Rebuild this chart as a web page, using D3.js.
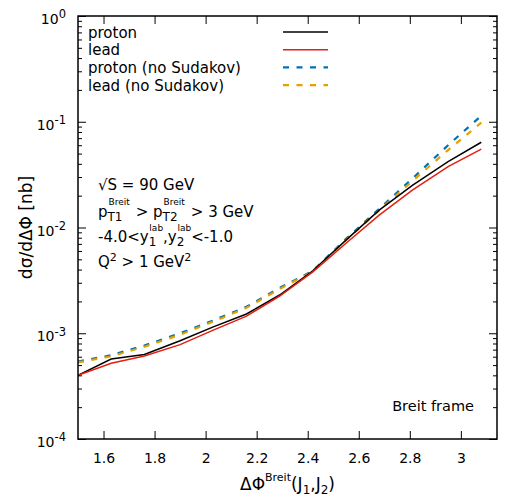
<!DOCTYPE html>
<html>
<head>
<meta charset="utf-8">
<script src="https://cdn.jsdelivr.net/npm/d3@7"></script>
<style>
  body { margin: 0; background: #fff; }
  text { font-family: "DejaVu Sans", Verdana, sans-serif; }
</style>
</head>
<body>
<div id="chart"></div>
<script>
// Data
var dphi = [1.50, 1.63, 1.76, 1.90, 2.03, 2.16, 2.29, 2.42, 2.55, 2.68, 2.81, 2.95, 3.08];
var proton = [4.0e-4, 5.7e-4, 6.3e-4, 8.5e-4, 1.15e-3, 1.52e-3, 2.3e-3, 3.9e-3, 7.6e-3, 1.46e-2, 2.5e-2, 4.2e-2, 6.4e-2];
var lead = [4.0e-4, 5.2e-4, 6.1e-4, 7.8e-4, 1.07e-3, 1.45e-3, 2.25e-3, 3.8e-3, 7.1e-3, 1.31e-2, 2.26e-2, 3.76e-2, 5.5e-2];
var protonNoSud = [5.4e-4, 6.2e-4, 7.65e-4, 1.0e-3, 1.32e-3, 1.78e-3, 2.68e-3, 3.9e-3, 7.8e-3, 1.5e-2, 2.9e-2, 6.0e-2, 1.14e-1];
var leadNoSud = [5.3e-4, 6.05e-4, 7.45e-4, 0.97e-3, 1.29e-3, 1.74e-3, 2.62e-3, 3.85e-3, 7.6e-3, 1.45e-2, 2.75e-2, 5.4e-2, 9.8e-2];

var seriesNames = ["proton", "lead", "proton (no Sudakov)", "lead (no Sudakov)"];
var seriesColors = ["#000000", "#e51e10", "#0072b2", "#e69f00"];
var seriesDashed = [false, false, true, true];
var seriesValues = [proton, lead, protonNoSud, leadNoSud];

var xTicks = [1.6, 1.8, 2.0, 2.2, 2.4, 2.6, 2.8, 3.0];
var yDecades = [1e-4, 1e-3, 1e-2, 1e-1, 1];
var yExponents = ["-4", "-3", "-2", "-1", "0"];

// Chart size
var width = 514;
var height = 498;
var margin = { top: 16, right: 17, bottom: 59, left: 78 };
var innerWidth = width - margin.left - margin.right;
var innerHeight = height - margin.top - margin.bottom;

var svg = d3.select("#chart")
  .append("svg")
  .attr("width", width)
  .attr("height", height);

var g = svg.append("g")
  .attr("transform", "translate(" + margin.left + "," + margin.top + ")");

var xScale = d3.scaleLinear().domain([1.5, Math.PI]).range([0, innerWidth]);
var yScale = d3.scaleLog().domain([1e-4, 1]).range([innerHeight, 0]);

// minor log ticks
var yMinor = [];
yDecades.slice(0, 4).forEach(function (d) {
  for (var k = 2; k <= 9; k++) yMinor.push(d * k);
});

// clip
svg.append("defs").append("clipPath").attr("id", "clip")
  .append("rect").attr("width", innerWidth).attr("height", innerHeight);

// Curves
var line = d3.line()
  .x(function (d) { return xScale(d[0]); })
  .y(function (d) { return yScale(d[1]); });

var curves = g.append("g").attr("clip-path", "url(#clip)");
[2, 3, 0, 1].forEach(function (i) {
  var pts = dphi.map(function (x, j) { return [x, seriesValues[i][j]]; });
  curves.append("path")
    .attr("d", line(pts))
    .attr("fill", "none")
    .attr("stroke", seriesColors[i])
    .attr("stroke-width", seriesDashed[i] ? 2.2 : 1.5)
    .attr("stroke-dasharray", seriesDashed[i] ? "6,7.5" : null);
});

// Axes (ticks pointing inward)
function styleAxis(sel) {
  sel.select(".domain").remove();
  sel.selectAll(".tick line").attr("stroke", "#000").attr("stroke-width", 1);
  sel.selectAll("text").attr("fill", "#000").attr("font-size", 14)
    .style("font-family", "'DejaVu Sans', Verdana, sans-serif");
}
function noLabels(sel) {
  sel.selectAll(".tick text").remove();
}

g.append("g")
  .attr("transform", "translate(0," + innerHeight + ")")
  .call(d3.axisBottom(xScale).tickValues(xTicks).tickSize(-8).tickPadding(14)
    .tickFormat(function (d) { return d3.format("")(+d.toFixed(1)); }))
  .call(styleAxis);

g.append("g")
  .call(d3.axisTop(xScale).tickValues(xTicks).tickSize(-8))
  .call(styleAxis).call(noLabels);

var leftAxis = g.append("g")
  .call(d3.axisLeft(yScale).tickValues(yDecades).tickSize(-8).tickPadding(12)
    .tickFormat(function () { return ""; }))
  .call(styleAxis);

leftAxis.selectAll(".tick text").each(function (d, i) {
  var t = d3.select(this);
  t.text("").attr("dy", "0.55em");
  t.append("tspan").text("10");
  t.append("tspan").attr("dy", "-0.5em").attr("font-size", 11.5).text(yExponents[i]);
});

g.append("g")
  .call(d3.axisLeft(yScale).tickValues(yMinor).tickSize(-4))
  .call(styleAxis).call(noLabels);

g.append("g")
  .attr("transform", "translate(" + innerWidth + ",0)")
  .call(d3.axisRight(yScale).tickValues(yDecades).tickSize(-8))
  .call(styleAxis).call(noLabels);

g.append("g")
  .attr("transform", "translate(" + innerWidth + ",0)")
  .call(d3.axisRight(yScale).tickValues(yMinor).tickSize(-4))
  .call(styleAxis).call(noLabels);

// Frame
g.append("rect")
  .attr("width", innerWidth)
  .attr("height", innerHeight)
  .attr("fill", "none")
  .attr("stroke", "#000")
  .attr("stroke-width", 1.5);

// Legend
var legend = g.append("g").attr("transform", "translate(10,16)");
seriesNames.forEach(function (name, i) {
  var row = legend.append("g").attr("transform", "translate(0," + (i * 17.7) + ")");
  row.append("text").attr("x", 0).attr("y", 5.5).attr("font-size", 15).text(name);
  row.append("line")
    .attr("x1", 195).attr("x2", 240)
    .attr("stroke", seriesColors[i])
    .attr("stroke-width", seriesDashed[i] ? 2.2 : 1.5)
    .attr("stroke-dasharray", seriesDashed[i] ? "6,7.5" : null);
});

// Annotation text
var ann = g.append("g").attr("transform", "translate(20,0)").attr("font-size", 15);
ann.append("text").attr("y", 174).text("√S = 90 GeV");

var t2 = ann.append("text").attr("y", 201);
t2.append("tspan").text("p");
t2.append("tspan").attr("dy", 4).attr("font-size", 12).text("T1");
t2.append("tspan").attr("dx", -14).attr("dy", -16).attr("font-size", 9).text("Breit");
t2.append("tspan").attr("dx", 6).attr("dy", 12).text("> p");
t2.append("tspan").attr("dy", 4).attr("font-size", 12).text("T2");
t2.append("tspan").attr("dx", -14).attr("dy", -16).attr("font-size", 9).text("Breit");
t2.append("tspan").attr("dx", 6).attr("dy", 12).text("> 3 GeV");

var t3 = ann.append("text").attr("y", 226);
t3.append("tspan").text("-4.0<y");
t3.append("tspan").attr("dy", 4).attr("font-size", 12).text("1");
t3.append("tspan").attr("dx", -7).attr("dy", -15).attr("font-size", 9).text("lab");
t3.append("tspan").attr("dy", 11).text(",y");
t3.append("tspan").attr("dy", 4).attr("font-size", 12).text("2");
t3.append("tspan").attr("dx", -7).attr("dy", -15).attr("font-size", 9).text("lab");
t3.append("tspan").attr("dy", 11).text("<-1.0");

var t4 = ann.append("text").attr("y", 251);
t4.append("tspan").text("Q");
t4.append("tspan").attr("dy", -6).attr("font-size", 11).text("2");
t4.append("tspan").attr("dy", 6).text(" > 1 GeV");
t4.append("tspan").attr("dy", -6).attr("font-size", 11).text("2");

g.append("text")
  .attr("x", innerWidth - 23)
  .attr("y", 395)
  .attr("text-anchor", "end")
  .attr("font-size", 14.5)
  .text("Breit frame");

// Axis titles
var xt = svg.append("text")
  .attr("x", margin.left + innerWidth / 2)
  .attr("y", 490)
  .attr("text-anchor", "middle")
  .attr("font-size", 17);
xt.append("tspan").text("ΔΦ");
xt.append("tspan").attr("dy", -9).attr("font-size", 11).text("Breit");
xt.append("tspan").attr("dy", 9).text("(J");
xt.append("tspan").attr("dy", 4).attr("font-size", 12).text("1");
xt.append("tspan").attr("dy", -4).text(",J");
xt.append("tspan").attr("dy", 4).attr("font-size", 12).text("2");
xt.append("tspan").attr("dy", -4).text(")");

svg.append("text")
  .attr("transform", "translate(32," + (margin.top + innerHeight / 2) + ") rotate(-90)")
  .attr("text-anchor", "middle")
  .attr("font-size", 17)
  .text("dσ/dΔΦ [nb]");
</script>
</body>
</html>
